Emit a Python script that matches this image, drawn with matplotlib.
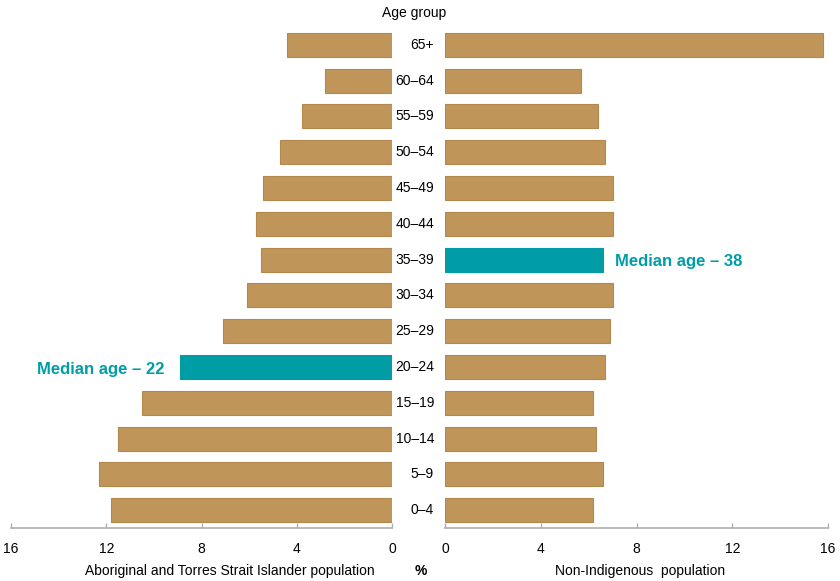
import numpy as np
import matplotlib.pyplot as plt
import matplotlib.transforms as mtransforms

plt.rcParams['font.family'] = ['Liberation Sans Narrow', 'Liberation Sans', 'DejaVu Sans']

age_groups = ['0–4', '5–9', '10–14', '15–19', '20–24', '25–29', '30–34',
              '35–39', '40–44', '45–49', '50–54', '55–59', '60–64', '65+']
indigenous = [11.8, 12.3, 11.5, 10.5, 8.9, 7.1, 6.1, 5.5, 5.7, 5.4, 4.7, 3.8, 2.8, 4.4]
non_indigenous = [6.2, 6.6, 6.3, 6.2, 6.7, 6.9, 7.0, 6.6, 7.0, 7.0, 6.7, 6.4, 5.7, 15.8]
median_indigenous = '20–24'
median_non_indigenous = '35–39'

tan = '#BF9559'
tan_edge = '#B3884D'
teal = '#009DA7'
grey = '#AFAFAF'

y = np.arange(len(age_groups))
col_l = [teal if a == median_indigenous else tan for a in age_groups]
col_r = [teal if a == median_non_indigenous else tan for a in age_groups]

fig = plt.figure(figsize=(8.4, 5.81), dpi=100)
axl = fig.add_axes([11/840, 1-528/581, 381/840, 501/581])
axr = fig.add_axes([445/840, 1-528/581, 383/840, 501/581])

axl.barh(y, indigenous, height=0.67, color=col_l,
         edgecolor=[tan_edge if c == tan else teal for c in col_l], linewidth=0.8)
axr.barh(y, non_indigenous, height=0.67, color=col_r,
         edgecolor=[tan_edge if c == tan else teal for c in col_r], linewidth=0.8)

axl.set_xlim(16, 0)
axr.set_xlim(0, 16)
for ax in (axl, axr):
    ax.set_ylim(-0.5, len(age_groups) - 0.5)
    ax.set_xticks([0, 4, 8, 12, 16])
    ax.set_yticks([])
    for s in ('top', 'left', 'right'):
        ax.spines[s].set_visible(False)
    ax.spines['bottom'].set_color(grey)
    ax.spines['bottom'].set_linewidth(1.2)
    ax.tick_params(axis='x', direction='in', length=3.5, color=grey, width=1,
                   labelsize=10, pad=10)

# age labels down the middle
mid = mtransforms.blended_transform_factory(fig.transFigure, axl.transData)
for yi, a in zip(y, age_groups):
    fig.text(434/840, yi, a, ha='right', va='center', fontsize=10, transform=mid)

fig.text(414/840, 1-13/581, 'Age group', ha='center', va='center', fontsize=10)

i_med = age_groups.index(median_indigenous)
axl.text(indigenous[i_med] + 0.65, i_med - 0.06, 'Median age – 22', ha='right', va='center',
         color=teal, fontsize=12, fontweight='bold')
j_med = age_groups.index(median_non_indigenous)
axr.text(non_indigenous[j_med] + 0.5, j_med - 0.06, 'Median age – 38', ha='left', va='center',
         color=teal, fontsize=12, fontweight='bold')

fig.text(230/840, 1-571/581, 'Aboriginal and Torres Strait Islander population',
         ha='center', va='center', fontsize=10)
fig.text(421/840, 1-571/581, '%', ha='center', va='center', fontsize=10, fontweight='bold')
fig.text(640/840, 1-571/581, 'Non-Indigenous  population', ha='center', va='center', fontsize=10)

fig.savefig('out.png', dpi=100)
